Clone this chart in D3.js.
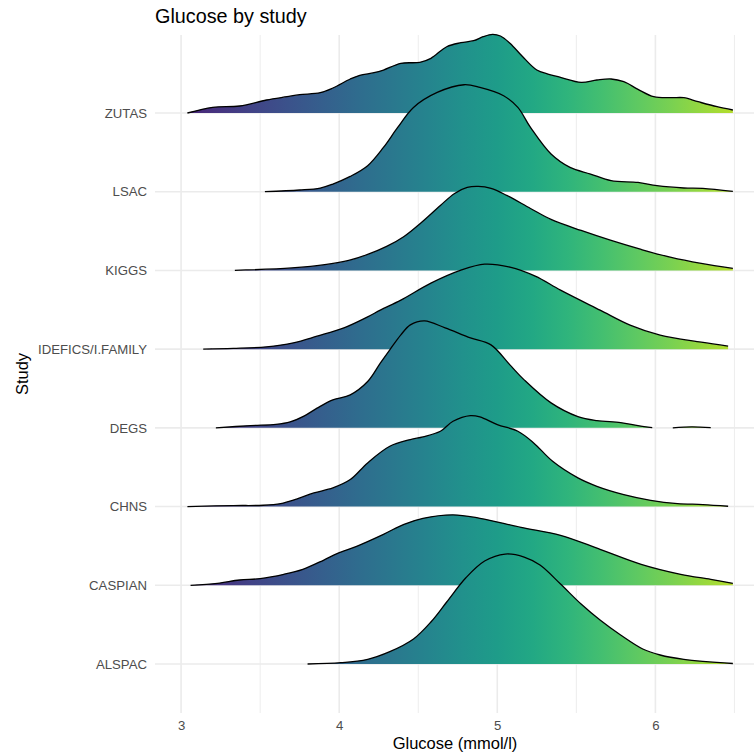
<!DOCTYPE html>
<html>
<head>
<meta charset="utf-8">
<script src="https://cdn.jsdelivr.net/npm/d3@7"></script>
<style>
  html, body { margin: 0; padding: 0; background: #ffffff; }
  svg { display: block; font-family: "Liberation Sans", Arial, Helvetica, sans-serif; }
</style>
</head>
<body>
<svg id="chart" width="754" height="753"></svg>
<script>
// Study order, bottom row first
const studies = ["ALSPAC", "CASPIAN", "CHNS", "DEGS", "IDEFICS/I.FAMILY", "KIGGS", "LSAC", "ZUTAS"];

// Estimated density curves: [glucose (mmol/l), density]
const alspac = [[3.80,0],[4.01,0.013],[4.18,0.047],[4.32,0.123],[4.47,0.25],[4.58,0.42],[4.68,0.62],[4.80,0.86],[4.92,1.03],[5.05,1.10],[5.17,1.07],[5.27,0.99],[5.40,0.80],[5.53,0.60],[5.65,0.44],[5.78,0.29],[5.92,0.15],[6.03,0.09],[6.18,0.047],[6.49,0.005]];
const caspian = [[3.06,0],[3.23,0.02],[3.37,0.053],[3.50,0.067],[3.65,0.11],[3.77,0.16],[3.90,0.25],[3.99,0.32],[4.11,0.39],[4.28,0.51],[4.41,0.61],[4.53,0.67],[4.72,0.705],[4.89,0.67],[5.15,0.58],[5.40,0.50],[5.65,0.36],[5.91,0.21],[6.16,0.11],[6.35,0.06],[6.49,0.02]];
const chns = [[3.04,0],[3.33,0.01],[3.52,0.013],[3.63,0.03],[3.73,0.075],[3.84,0.137],[3.96,0.187],[4.07,0.27],[4.18,0.437],[4.32,0.603],[4.45,0.67],[4.53,0.697],[4.64,0.753],[4.72,0.853],[4.83,0.91],[4.89,0.897],[5.00,0.82],[5.13,0.753],[5.23,0.637],[5.35,0.453],[5.51,0.287],[5.63,0.203],[5.80,0.12],[5.97,0.063],[6.14,0.03],[6.30,0.02],[6.46,0.003]];
const degs = [[3.22,0],[3.44,0.023],[3.60,0.035],[3.69,0.06],[3.78,0.12],[3.86,0.197],[3.96,0.28],[4.07,0.33],[4.18,0.463],[4.26,0.647],[4.32,0.78],[4.39,0.93],[4.45,1.03],[4.54,1.07],[4.67,1.00],[4.83,0.90],[4.96,0.83],[5.08,0.63],[5.17,0.48],[5.34,0.25],[5.51,0.113],[5.63,0.073],[5.78,0.053],[5.89,0.023],[5.98,0.003]];
const degsTail = [[6.11,0],[6.23,0.01],[6.35,0.002]];
const idefics = [[3.14,0],[3.33,0.007],[3.54,0.023],[3.71,0.063],[3.86,0.13],[4.03,0.213],[4.18,0.323],[4.26,0.39],[4.39,0.49],[4.58,0.66],[4.77,0.79],[4.92,0.85],[5.08,0.82],[5.24,0.73],[5.40,0.59],[5.65,0.39],[5.84,0.24],[6.03,0.14],[6.29,0.07],[6.46,0.03]];
const kiggs = [[3.34,0],[3.70,0.025],[3.92,0.06],[4.06,0.10],[4.18,0.16],[4.30,0.24],[4.41,0.34],[4.52,0.48],[4.64,0.65],[4.73,0.77],[4.81,0.83],[4.88,0.84],[4.96,0.82],[5.06,0.75],[5.21,0.62],[5.34,0.51],[5.53,0.40],[5.72,0.30],[5.91,0.21],[6.10,0.13],[6.29,0.07],[6.49,0.02]];
const lsac = [[3.53,0],[3.75,0.017],[3.88,0.037],[3.96,0.077],[4.07,0.153],[4.18,0.26],[4.28,0.443],[4.37,0.643],[4.47,0.843],[4.62,0.993],[4.79,1.07],[4.89,1.043],[5.04,0.96],[5.13,0.843],[5.21,0.643],[5.34,0.377],[5.46,0.243],[5.59,0.177],[5.72,0.11],[5.89,0.093],[6.01,0.06],[6.18,0.037],[6.30,0.033],[6.49,0.003]];
const zutas = [[3.04,0],[3.20,0.057],[3.37,0.07],[3.54,0.13],[3.67,0.163],[3.75,0.183],[3.88,0.203],[3.96,0.25],[4.07,0.34],[4.13,0.377],[4.22,0.403],[4.28,0.43],[4.39,0.497],[4.51,0.507],[4.58,0.547],[4.68,0.663],[4.77,0.703],[4.85,0.723],[4.91,0.763],[4.97,0.787],[5.02,0.77],[5.08,0.697],[5.17,0.547],[5.25,0.43],[5.32,0.39],[5.40,0.357],[5.53,0.307],[5.63,0.33],[5.72,0.34],[5.80,0.313],[5.89,0.237],[5.99,0.163],[6.10,0.153],[6.18,0.153],[6.27,0.113],[6.39,0.063],[6.49,0.03]];

// Each study is one or more curve segments (density cut where it falls too low)
const ridges = [
  { study: "ZUTAS", segments: [zutas] },
  { study: "LSAC", segments: [lsac] },
  { study: "KIGGS", segments: [kiggs] },
  { study: "IDEFICS/I.FAMILY", segments: [idefics] },
  { study: "DEGS", segments: [degs, degsTail] },
  { study: "CHNS", segments: [chns] },
  { study: "CASPIAN", segments: [caspian] },
  { study: "ALSPAC", segments: [alspac] }
];

const xMajorTicks = [3, 4, 5, 6];
const xMinorTicks = [3.5, 4.5, 5.5, 6.5];
const fillRange = [2.57, 6.99];

const titleText = "Glucose by study";
const xTitle = "Glucose (mmol/l)";
const yTitle = "Study";

// ---- layout ----
const svg = d3.select("#chart");
const panel = { left: 155, right: 755, top: 35, bottom: 713 };

const x = d3.scaleLinear().domain([2.835, 6.63]).range([panel.left, panel.right]);
const y = d3.scalePoint().domain(studies).range([664, 113]);
const step = y.step();
const h = d3.scaleLinear().domain([0, 1]).range([0, step * 1.27]);

// viridis gradient along x
const defs = svg.append("defs");
const grad = defs.append("linearGradient")
  .attr("id", "viridisX")
  .attr("gradientUnits", "userSpaceOnUse")
  .attr("x1", x(fillRange[0])).attr("x2", x(fillRange[1]))
  .attr("y1", 0).attr("y2", 0);
d3.range(0, 1.0001, 0.05).forEach(t => {
  grad.append("stop").attr("offset", t).attr("stop-color", d3.interpolateViridis(t));
});

// gridlines
const grid = svg.append("g");
grid.selectAll("line.minor").data(xMinorTicks).join("line")
  .attr("x1", d => x(d)).attr("x2", d => x(d))
  .attr("y1", panel.top).attr("y2", panel.bottom)
  .attr("stroke", "#ebebeb").attr("stroke-width", 0.9);
grid.selectAll("line.major").data(xMajorTicks).join("line")
  .attr("x1", d => x(d)).attr("x2", d => x(d))
  .attr("y1", panel.top).attr("y2", panel.bottom)
  .attr("stroke", "#ebebeb").attr("stroke-width", 1.6);
grid.selectAll("line.hmajor").data(studies).join("line")
  .attr("x1", panel.left).attr("x2", panel.right)
  .attr("y1", d => y(d)).attr("y2", d => y(d))
  .attr("stroke", "#ebebeb").attr("stroke-width", 1.6);

// ridges, top row first so lower rows overlap upper ones
const curve = d3.curveCatmullRom.alpha(0.5);
const ridgeG = svg.append("g");
ridges.forEach(r => {
  const base = y(r.study);
  const top = d => Math.min(base, base - h(d[1]));
  const area = d3.area().curve(curve).x(d => x(d[0])).y0(base).y1(top);
  const line = d3.line().curve(curve).x(d => x(d[0])).y(top);
  const g = ridgeG.append("g");
  r.segments.forEach(seg => {
    g.append("path").attr("d", area(seg)).attr("fill", "url(#viridisX)");
  });
  r.segments.forEach(seg => {
    g.append("path").attr("d", line(seg)).attr("fill", "none")
      .attr("stroke", "#000").attr("stroke-width", 1.3).attr("stroke-linejoin", "round");
  });
});

// axes text
const xAxis = d3.axisBottom(x).tickValues(xMajorTicks).tickSize(0).tickPadding(0).tickFormat(d3.format("d"));
svg.append("g").attr("transform", `translate(0,${panel.bottom + 8})`).call(xAxis)
  .call(g => g.select(".domain").remove())
  .call(g => g.selectAll("text").attr("fill", "#4d4d4d").attr("font-size", 13.2)
    .attr("font-family", "Liberation Sans, Arial, sans-serif"));

const yAxis = d3.axisLeft(y).tickSize(0).tickPadding(0);
svg.append("g").attr("transform", `translate(${panel.left - 8},0)`).call(yAxis)
  .call(g => g.select(".domain").remove())
  .call(g => g.selectAll("text").attr("fill", "#4d4d4d").attr("font-size", 13.2)
    .attr("font-family", "Liberation Sans, Arial, sans-serif"));

svg.append("text").attr("x", (panel.left + panel.right) / 2).attr("y", 749)
  .attr("text-anchor", "middle").attr("font-size", 16.5).attr("fill", "#000")
  .text(xTitle);

svg.append("text")
  .attr("transform", `translate(28,${(panel.top + panel.bottom) / 2}) rotate(-90)`)
  .attr("text-anchor", "middle").attr("font-size", 16.5).attr("fill", "#000")
  .text(yTitle);

svg.append("text").attr("x", panel.left).attr("y", 23)
  .attr("font-size", 19.8).attr("fill", "#000")
  .text(titleText);
</script>
</body>
</html>
